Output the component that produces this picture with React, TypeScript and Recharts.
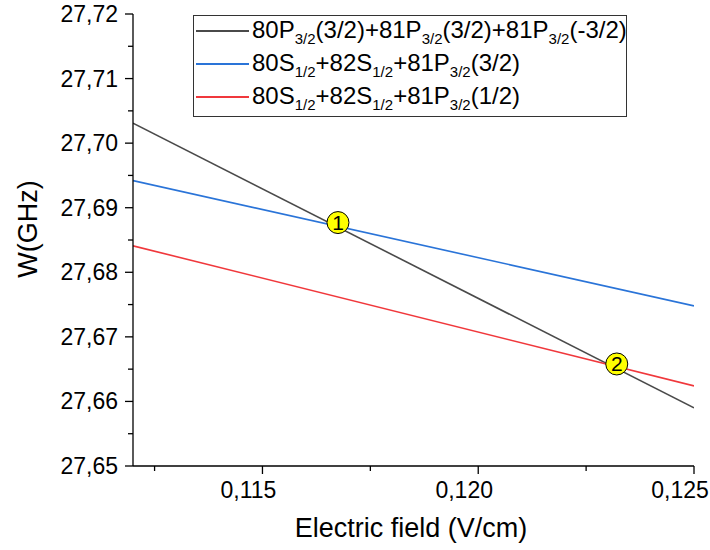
import { ComposedChart, Line, Scatter, XAxis, YAxis, Legend, Label } from 'recharts';

const fieldEnds = [0.112, 0.125];
const wBlack = [27.7031, 27.659];
const wBlue = [27.6942, 27.6748];
const wRed = [27.6841, 27.6624];

const crossField = [0.11675, 0.12321];
const crossW = [27.6877, 27.6658];
const crossLabels = ['1', '2'];

const xTicks = [0.1125, 0.115, 0.1175, 0.12, 0.1225, 0.125];
const yTicks = [27.65, 27.655, 27.66, 27.665, 27.67, 27.675, 27.68, 27.685, 27.69, 27.695, 27.7, 27.705, 27.71, 27.715, 27.72];

const FONT = '"Liberation Sans", Arial, sans-serif';

const toRows = (ys: number[]) => fieldEnds.map((x, i) => ({ x, y: ys[i] }));
const blackData = toRows(wBlack);
const blueData = toRows(wBlue);
const redData = toRows(wRed);
const crossData = crossField.map((x, i) => ({ x, y: crossW[i], label: crossLabels[i] }));

const isMajorX = (v: number) => Math.round(v * 10000) % 50 === 0;
const isMajorY = (v: number) => Math.round(v * 1000) % 10 === 0;

function XTick(props: any) {
  const { x, y, payload } = props;
  const axisY = y - 12;
  const major = isMajorX(payload.value);
  return (
    <g>
      <line x1={x} x2={x} y1={axisY} y2={axisY + (major ? 8 : 5)} stroke="#000" strokeWidth={1.3} />
      {major && (
        <text x={x - 14} y={axisY + 32} textAnchor="middle" fontSize={23} fontFamily={FONT} fill="#000">
          {payload.value.toFixed(3).replace('.', ',')}
        </text>
      )}
    </g>
  );
}

function YTick(props: any) {
  const { x, y, payload } = props;
  const axisX = x + 12;
  const major = isMajorY(payload.value);
  return (
    <g>
      <line x1={axisX} x2={axisX - (major ? 8 : 5)} y1={y} y2={y} stroke="#000" strokeWidth={1.3} />
      {major && (
        <text x={axisX - 15} y={y + 8} textAnchor="end" fontSize={23} fontFamily={FONT} fill="#000">
          {payload.value.toFixed(2).replace('.', ',')}
        </text>
      )}
    </g>
  );
}

function CrossMark(props: any) {
  const { cx, cy, payload } = props;
  return (
    <g>
      <circle cx={cx} cy={cy} r={11} fill="#ffff00" stroke="#000" strokeWidth={1} />
      <text x={cx} y={cy + 7.5} textAnchor="middle" fontSize={21} fontFamily={FONT} fill="#000">
        {payload.label}
      </text>
    </g>
  );
}

const sub = (s: string) => (
  <span style={{ fontSize: 15, position: 'relative', top: 6 }}>{s}</span>
);

const legendRows = [
  {
    color: '#4a4a4a',
    text: (
      <>80P{sub('3/2')}(3/2)+81P{sub('3/2')}(3/2)+81P{sub('3/2')}(-3/2)</>
    ),
  },
  { color: '#2a74d8', text: <>80S{sub('1/2')}+82S{sub('1/2')}+81P{sub('3/2')}(3/2)</> },
  { color: '#f0383c', text: <>80S{sub('1/2')}+82S{sub('1/2')}+81P{sub('3/2')}(1/2)</> },
];

function LegendBox() {
  return (
    <div
      style={{
        border: '1px solid #333',
        background: '#fff',
        width: 434,
        height: 102,
        boxSizing: 'border-box',
        paddingTop: 1,
        fontFamily: FONT,
        fontSize: 24,
        color: '#000',
      }}
    >
      {legendRows.map((r, i) => (
        <div key={i} style={{ display: 'flex', alignItems: 'center', height: 33, lineHeight: '33px', whiteSpace: 'nowrap' }}>
          <div style={{ width: 53, height: 2, background: r.color, marginLeft: 2, marginRight: 3, marginTop: -6, flexShrink: 0 }} />
          <span style={{ position: 'relative', top: -3 }}>{r.text}</span>
        </div>
      ))}
    </div>
  );
}

export default function App() {
  return (
    <div style={{ position: 'absolute', left: 0, top: 0, background: '#fff' }}>
      <ComposedChart width={710} height={550} margin={{ top: 14, right: 16, bottom: 0, left: 0 }}>
        <XAxis
          type="number"
          dataKey="x"
          domain={[0.112, 0.125]}
          ticks={xTicks}
          interval={0}
          allowDataOverflow
          height={84}
          tickLine={false}
          tickSize={8}
          tickMargin={4}
          tick={<XTick />}
          axisLine={{ stroke: '#000', strokeWidth: 1.3 }}
        >
          <Label
            content={() => (
              <text x={411} y={537} textAnchor="middle" fontSize={27} fontFamily={FONT} fill="#000">
                Electric field (V/cm)
              </text>
            )}
          />
        </XAxis>
        <YAxis
          type="number"
          domain={[27.65, 27.72]}
          ticks={yTicks}
          interval={0}
          allowDataOverflow
          width={133}
          tickLine={false}
          tickSize={8}
          tickMargin={4}
          tick={<YTick />}
          axisLine={{ stroke: '#000', strokeWidth: 1.3 }}
        >
          <Label
            content={() => (
              <text x={37} y={229} transform="rotate(-90 37 229)" textAnchor="middle" fontSize={27} fontFamily={FONT} fill="#000">
                W(GHz)
              </text>
            )}
          />
        </YAxis>
        <Legend
          layout="horizontal"
          verticalAlign="middle"
          align="center"
          wrapperStyle={{ left: 193, top: 15, width: 434, height: 102 }}
          content={() => <LegendBox />}
        />
        <Line data={blackData} dataKey="y" stroke="#4a4a4a" strokeWidth={1.6} dot={false} isAnimationActive={false} />
        <Line data={blueData} dataKey="y" stroke="#2a74d8" strokeWidth={1.6} dot={false} isAnimationActive={false} />
        <Line data={redData} dataKey="y" stroke="#f0383c" strokeWidth={1.6} dot={false} isAnimationActive={false} />
        <Scatter data={crossData} dataKey="y" shape={<CrossMark />} isAnimationActive={false} />
      </ComposedChart>
    </div>
  );
}
